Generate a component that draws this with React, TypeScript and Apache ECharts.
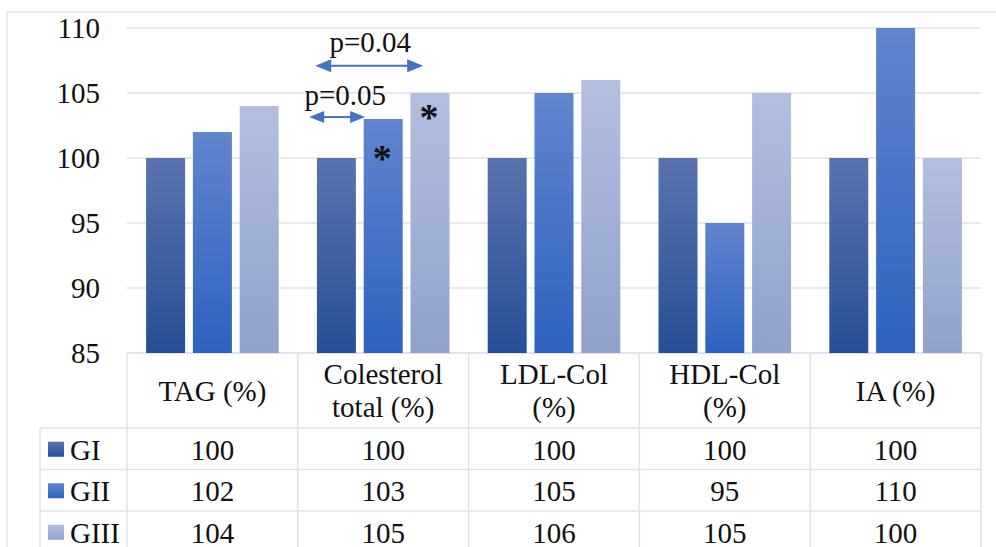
import React, { useEffect, useRef } from "react";
import * as echarts from "echarts";

const categories = ["TAG (%)", "Colesterol\ntotal (%)", "LDL-Col\n(%)", "HDL-Col\n(%)", "IA (%)"];
const seriesNames = ["GI", "GII", "GIII"];
const giValues = [100, 100, 100, 100, 100];
const giiValues = [102, 103, 105, 95, 110];
const giiiValues = [104, 105, 106, 105, 100];
const yMin = 85;
const yMax = 110;
const yInterval = 5;
// significance annotations on the "Colesterol total" group
const pLabels = ["p=0.05", "p=0.04"];
const starSeries = [1, 2]; // GII and GIII of group 1 carry an asterisk
const starValues = [100.5, 103.6];

const FONT = "Liberation Serif";
const FS = 29;
const GRID = "#DEE2E9";
const ARROW = "#4472C4";
const colors: [string, string][] = [
  ["#5A73AF", "#264F95"],
  ["#6185CE", "#2D62BF"],
  ["#B2BFE1", "#91A1CB"],
];

const grad = (c: [string, string]) =>
  new echarts.graphic.LinearGradient(0, 0, 0, 1, [
    { offset: 0, color: c[0] },
    { offset: 1, color: c[1] },
  ]);

export default function App() {
  const ref = useRef<HTMLDivElement>(null);
  useEffect(() => {
    document.body.style.margin = "0";
    const chart = echarts.init(ref.current!, null, { renderer: "svg" });
    const allValues = [giValues, giiValues, giiiValues];
    chart.setOption({
      animation: false,
      grid: { left: 127, right: 15, top: 28, bottom: 194, containLabel: false },
      xAxis: {
        type: "category",
        data: categories,
        axisLine: { show: false },
        axisTick: { show: false },
        axisLabel: { show: false },
      },
      yAxis: {
        type: "value",
        min: yMin,
        max: yMax,
        interval: yInterval,
        startValue: yMin,
        axisLine: { show: false },
        axisTick: { show: false },
        axisLabel: { color: "#111", fontSize: FS, fontFamily: FONT, margin: 27 },
        splitLine: { lineStyle: { color: GRID, width: 1.5 } },
      },
      series: seriesNames.map((name, i) => ({
        name,
        type: "bar",
        data: allValues[i],
        barWidth: 39,
        barGap: "20%",
        itemStyle: { color: grad(colors[i]) },
      })),
    });

    const xs = categories.map((_, i) => chart.convertToPixel({ xAxisIndex: 0 }, i) as number);
    const yPx = (v: number) => chart.convertToPixel({ yAxisIndex: 0 }, v) as number;
    const colW = xs[1] - xs[0];
    const left = xs[0] - colW / 2;
    const right = xs[xs.length - 1] + colW / 2;
    const top = yPx(yMin);
    const headerH = 75;
    const rowH = 41.5;
    const legendLeft = 40;
    const bottom = top + headerH + rowH * 3;
    const lineStyle = { stroke: GRID, lineWidth: 1.5 };
    const g: any[] = [];
    const hline = (x1: number, x2: number, y: number) =>
      g.push({ type: "line", z: 1, shape: { x1, y1: y, x2, y2: y }, style: lineStyle, silent: true });
    const vline = (x: number, y1: number, y2: number) =>
      g.push({ type: "line", z: 1, shape: { x1: x, y1, x2: x, y2 }, style: lineStyle, silent: true });

    // outer chart border
    hline(7, 1000, 12);
    vline(7, 12, 560);

    // table grid
    hline(left, right, top);
    for (let r = 0; r <= 3; r++) hline(legendLeft, right, top + headerH + r * rowH);
    vline(legendLeft, top + headerH, bottom);
    for (let c = 0; c <= categories.length; c++) vline(left + c * colW, top, bottom);

    const text = (t: string, x: number, y: number, align = "center", size = FS, weight = "normal") =>
      g.push({
        type: "text",
        silent: true,
        z: 50,
        style: {
          text: t,
          x,
          y,
          fill: "#111",
          fontSize: size,
          fontWeight: weight,
          fontFamily: FONT,
          align,
          verticalAlign: "middle",
          lineHeight: 33,
        },
      });

    categories.forEach((c, i) => text(c, xs[i], top + headerH / 2));
    seriesNames.forEach((name, r) => {
      const cy = top + headerH + rowH * (r + 0.5);
      g.push({
        type: "rect",
        silent: true,
        z: 50,
        shape: { x: 48, y: cy - 7, width: 16, height: 15 },
        style: { fill: grad(colors[r]) },
      });
      text(name, 70, cy + 1, "left");
      allValues[r].forEach((v, i) => text(String(v), xs[i], cy + 1));
    });

    // annotations
    const xc = xs[1];
    const arrow = (x1: number, x2: number, y: number, hl: number, hh: number) => {
      g.push({
        type: "line",
        silent: true,
        z: 50,
        shape: { x1: x1 + hl - 1, y1: y, x2: x2 - hl + 1, y2: y },
        style: { stroke: ARROW, lineWidth: 2 },
      });
      g.push({
        type: "polygon",
        silent: true,
        z: 50,
        shape: { points: [[x1, y], [x1 + hl, y - hh / 2], [x1 + hl, y + hh / 2]] },
        style: { fill: ARROW },
      });
      g.push({
        type: "polygon",
        silent: true,
        z: 50,
        shape: { points: [[x2, y], [x2 - hl, y - hh / 2], [x2 - hl, y + hh / 2]] },
        style: { fill: ARROW },
      });
    };
    arrow(xc - 74, xc - 18, yPx(103.15), 15, 12);
    arrow(xc - 68, xc + 40, yPx(107.1), 16, 13);
    text(pLabels[0], xc - 38, yPx(104.85));
    text(pLabels[1], xc - 13, yPx(108.9));
    const barStep = 39 * 1.2;
    starSeries.forEach((s, k) => {
      text("*", xc + (s - 1) * barStep - 1, yPx(starValues[k]) + 6, "center", 38, "bold");
    });

    chart.setOption({ graphic: { elements: g } });
    return () => chart.dispose();
  }, []);
  return <div ref={ref} style={{ width: 996, height: 547 }} />;
}
